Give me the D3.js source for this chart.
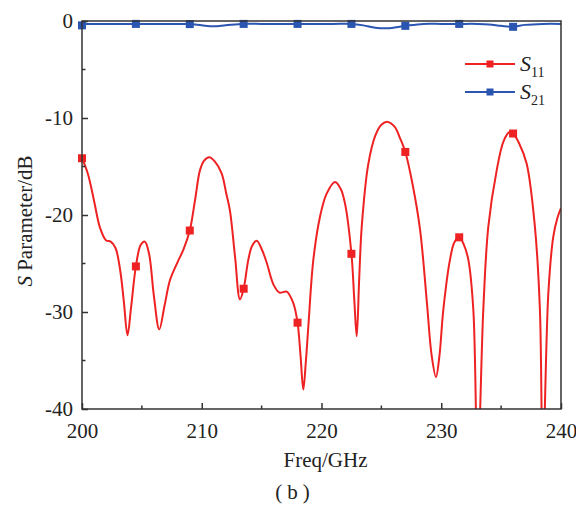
<!DOCTYPE html>
<html>
<head>
<meta charset="utf-8">
<script src="https://cdn.jsdelivr.net/npm/d3@7"></script>
<style>
  body { margin: 0; background: #fff; }
  text { font-family: "Liberation Serif", "Times New Roman", serif; fill: #222; }
</style>
</head>
<body>
<svg id="chart" width="576" height="505"></svg>
<script>
// S11 curve (freq GHz, dB)
var s11Freq = [200, 200.5, 201, 201.5, 202, 202.4, 202.8, 203.2, 203.5, 203.8, 204.1, 204.5, 204.9, 205.25, 205.6, 206, 206.45, 206.9, 207.35, 208, 208.46, 209, 209.44, 209.85, 210.2, 210.63, 211.1, 211.66, 212.05, 212.36, 212.78, 213.19, 213.5, 213.89, 214.2, 214.59, 215, 215.42, 216, 216.5, 217.09, 217.65, 218, 218.25, 218.48, 218.7, 218.9, 219.32, 219.87, 220.43, 221.13, 221.6, 221.96, 222.5, 222.75, 222.94, 223.15, 223.36, 223.9, 224.5, 225, 225.53, 226.1, 226.6, 227, 227.6, 228.23, 228.8, 229.2, 229.56, 229.85, 230.17, 230.73, 231.1, 231.5, 231.9, 232.26, 232.68, 233.04, 233.51, 233.93, 234.63, 235.2, 235.7, 236, 236.5, 237.13, 237.82, 238.24, 238.48, 238.94, 239.36, 239.7, 240];
var s11Val = [-14.15, -15.8, -18.5, -21.3, -22.6, -22.75, -23.4, -25.8, -29, -32.4, -29.5, -25.3, -23.1, -22.75, -24, -28.3, -31.8, -29.3, -26.7, -24.8, -23.6, -21.6, -18.45, -15.4, -14.4, -14.05, -14.5, -15.7, -17.8, -19.6, -24.3, -28.7, -27.6, -24.6, -23.2, -22.65, -23.5, -24.9, -27.2, -28, -27.9, -29.1, -31.1, -34.5, -38, -35, -31.5, -24.6, -20.2, -17.8, -16.6, -17.3, -18.8, -24.0, -29, -32.5, -26.5, -21.2, -14.8, -11.8, -10.7, -10.4, -10.9, -12.2, -13.5, -16.8, -21.5, -29, -34.5, -36.7, -34.5, -29.8, -24.6, -22.8, -22.3, -23.1, -24.6, -29.8, -46, -29.8, -21.2, -15.4, -12.4, -11.45, -11.6, -12.6, -14.7, -21.2, -29.8, -46, -28.1, -22.2, -20.3, -19.3];

// S21 curve
var s21Freq = [200, 200.3, 201, 202, 203, 204.5, 206, 207.5, 209, 210, 211, 212, 213.5, 215, 216.5, 218, 219.5, 221, 222.5, 223.5, 224.5, 225.5, 227, 228.5, 230, 231.5, 233, 234, 235, 236, 237, 238.5, 240];
var s21Val = [-0.45, -0.32, -0.3, -0.3, -0.3, -0.3, -0.3, -0.3, -0.32, -0.45, -0.55, -0.45, -0.3, -0.3, -0.3, -0.3, -0.3, -0.3, -0.3, -0.45, -0.7, -0.75, -0.5, -0.3, -0.3, -0.3, -0.3, -0.35, -0.5, -0.6, -0.4, -0.3, -0.3];

// markers every 4.5 GHz
var markerFreq = [200, 204.5, 209, 213.5, 218, 222.5, 227, 231.5, 236];

var xTicks = [200, 210, 220, 230, 240];
var yTicks = [0, -10, -20, -30, -40];
var xMinor = [205, 215, 225, 235];
var yMinor = [-5, -15, -25, -35];

var red = "#ee2222", blue = "#2a55b0";

var margin = {top: 21, right: 15, bottom: 96, left: 82},
    width = 561 - margin.left,
    height = 409 - margin.top;

var svg = d3.select("#chart")
  .append("g")
  .attr("transform", "translate(" + margin.left + "," + margin.top + ")");

var x = d3.scaleLinear().domain([200, 240]).range([0, width]);
var y = d3.scaleLinear().domain([-40, 0]).range([height, 0]);

svg.append("clipPath").attr("id", "clip")
  .append("rect").attr("x", 0).attr("y", -2).attr("width", width).attr("height", height + 2);

function valueAt(fs, vs, f) {
  for (var i = 0; i < fs.length - 1; i++) {
    if (f >= fs[i] && f <= fs[i + 1]) {
      var t = (f - fs[i]) / (fs[i + 1] - fs[i]);
      return vs[i] + t * (vs[i + 1] - vs[i]);
    }
  }
  return vs[vs.length - 1];
}

var line = d3.line()
  .x(function(d) { return x(d[0]); })
  .y(function(d) { return y(d[1]); })
  .curve(d3.curveCatmullRom.alpha(0.5));

var s11 = s11Freq.map(function(f, i) { return [f, s11Val[i]]; });
var s21 = s21Freq.map(function(f, i) { return [f, s21Val[i]]; });

svg.append("path").datum(s11)
  .attr("clip-path", "url(#clip)")
  .attr("fill", "none").attr("stroke", red).attr("stroke-width", 2)
  .attr("d", line);

svg.append("path").datum(s21)
  .attr("clip-path", "url(#clip)")
  .attr("fill", "none").attr("stroke", blue).attr("stroke-width", 2)
  .attr("d", line);

var ms = 8;
svg.selectAll(".m11").data(markerFreq).enter().append("rect")
  .attr("x", function(d) { return x(d) - ms / 2; })
  .attr("y", function(d) { return y(valueAt(s11Freq, s11Val, d)) - ms / 2; })
  .attr("width", ms).attr("height", ms).attr("fill", red);

svg.selectAll(".m21").data(markerFreq).enter().append("rect")
  .attr("x", function(d) { return x(d) - ms / 2; })
  .attr("y", function(d) { return y(valueAt(s21Freq, s21Val, d)) - ms / 2; })
  .attr("width", ms).attr("height", ms).attr("fill", blue);

// frame
svg.append("rect").attr("width", width).attr("height", height)
  .attr("fill", "none").attr("stroke", "#333").attr("stroke-width", 1.5);

// axes
var fmt = function(d) { return String(d); };
var gx = svg.append("g").attr("transform", "translate(0," + height + ")")
  .call(d3.axisBottom(x).tickValues(xTicks).tickFormat(fmt).tickSizeInner(-6).tickSizeOuter(0).tickPadding(18));
gx.append("g").selectAll("line").data(xMinor).enter().append("line")
  .attr("x1", function(d) { return x(d); }).attr("x2", function(d) { return x(d); })
  .attr("y1", 0).attr("y2", -3.5).attr("stroke", "#333").attr("stroke-width", 1.5);

var gy = svg.append("g")
  .call(d3.axisLeft(y).tickValues(yTicks).tickFormat(fmt).tickSizeInner(-6).tickSizeOuter(0).tickPadding(9));
gy.append("g").selectAll("line").data(yMinor).enter().append("line")
  .attr("y1", function(d) { return y(d); }).attr("y2", function(d) { return y(d); })
  .attr("x1", 0).attr("x2", 3.5).attr("stroke", "#333").attr("stroke-width", 1.5);

[gx, gy].forEach(function(g) {
  g.select(".domain").remove();
  g.selectAll(".tick line").attr("stroke", "#333").attr("stroke-width", 1.5);
  g.selectAll(".tick text").style("font-family", "Liberation Serif").style("font-size", "21px").attr("fill", "#222");
});
gx.selectAll(".tick text").attr("dy", "0.5em");

// axis titles
svg.append("text")
  .attr("x", width / 2 + 4).attr("y", height + 58)
  .style("text-anchor", "middle").style("font-size", "21px")
  .text("Freq/GHz");

var yl = svg.append("text")
  .attr("transform", "translate(" + (-50) + "," + (height / 2 + 6) + ") rotate(-90)")
  .style("text-anchor", "middle").style("font-size", "21px");
yl.append("tspan").style("font-style", "italic").text("S");
yl.append("tspan").text(" Parameter/dB");

svg.append("text")
  .attr("x", 213).attr("y", 478)
  .style("text-anchor", "middle").style("font-size", "21px").style("letter-spacing", "5px")
  .text("(b)");

// legend
var legend = [{name: "11", color: red, ly: 43}, {name: "21", color: blue, ly: 71}];
var lg = svg.selectAll(".leg").data(legend).enter().append("g")
  .attr("transform", function(d) { return "translate(383," + d.ly + ")"; });
lg.append("line").attr("x1", 0).attr("x2", 50).attr("y1", 0).attr("y2", 0)
  .attr("stroke", function(d) { return d.color; }).attr("stroke-width", 2);
lg.append("rect").attr("x", 21.5).attr("y", -3.5).attr("width", 7).attr("height", 7)
  .attr("fill", function(d) { return d.color; });
var lt = lg.append("text").attr("x", 55).attr("y", 7).style("font-size", "22px");
lt.append("tspan").style("font-style", "italic").text("S");
lt.append("tspan").attr("dy", 6).style("font-size", "14px").text(function(d) { return d.name; });
</script>
</body>
</html>
